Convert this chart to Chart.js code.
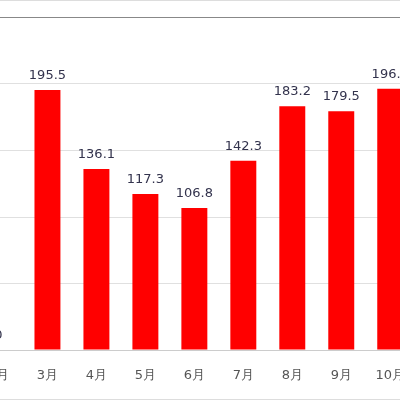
<!DOCTYPE html>
<html><head><meta charset="utf-8">
<script src="https://cdn.jsdelivr.net/npm/chart.js@4"></script>
<style>
html,body{margin:0;padding:0;background:#fff;overflow:hidden;width:400px;height:400px}
#frame{position:absolute;left:0;top:0;width:400px;height:398px;border-top:1px solid #ddd;border-bottom:1px solid #ddd}
#wrap{position:absolute;left:-26.5px;top:0;width:441px;height:400px}
</style></head><body>
<div id="frame"></div>
<div id="wrap"><canvas id="c"></canvas></div>
<script>
const categories=['2月','3月','4月','5月','6月','7月','8月','9月','10月'];
const values=[0,195.5,136.1,117.3,106.8,142.3,183.2,179.5,196.5];
const labelsPlugin={id:'vals',afterDatasetsDraw(chart){
  const ctx=chart.ctx;const meta=chart.getDatasetMeta(0);
  ctx.save();ctx.font='13px "DejaVu Sans", Verdana, sans-serif';ctx.fillStyle='#33334d';
  ctx.textAlign='center';ctx.textBaseline='bottom';
  meta.data.forEach((b,i)=>{ctx.fillText(values[i].toFixed(values[i]===0?0:1),b.x,b.y-8);});
  ctx.restore();}};
new Chart(document.getElementById('c'),{type:'bar',
 data:{labels:categories,datasets:[{data:values,backgroundColor:'#ff0000',barPercentage:0.53,categoryPercentage:1}]},
 options:{responsive:true,maintainAspectRatio:false,animation:false,
  layout:{padding:{top:17.5,left:0,right:0,bottom:0}},
  plugins:{legend:{display:false},tooltip:{enabled:false}},
  scales:{
   x:{grid:{display:false},border:{color:'#ccc'},
      ticks:{color:'#555',font:{size:13,family:'"DejaVu Sans", Verdana, sans-serif'},padding:10},
      afterFit(s){s.height=50;}},
   y:{min:0,max:250,ticks:{display:false,stepSize:50},border:{display:false},
      grid:{color:c=>c.tick.value===250?'#888':'#e0e0e0',drawTicks:false},
      afterFit(s){s.width=0;}}
  }},
 plugins:[labelsPlugin]});
</script></body></html>
